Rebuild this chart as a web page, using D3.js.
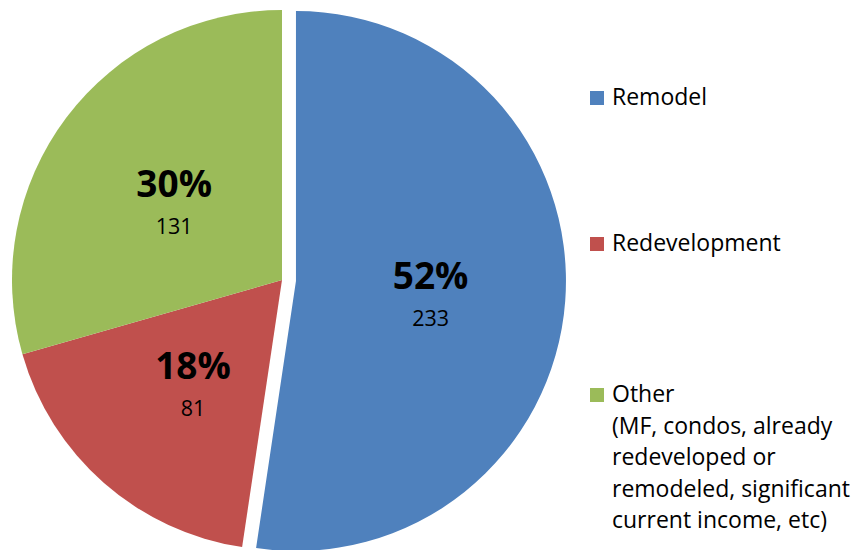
<!DOCTYPE html>
<html>
<head>
<meta charset="utf-8">
<script src="https://cdn.jsdelivr.net/npm/d3@7"></script>
<style>
  body { margin: 0; background: #fff; }
  svg text { font-family: "Open Sans", "Noto Sans", sans-serif; fill: #000; }
</style>
</head>
<body>
<svg class="pie-chart" width="866" height="550"></svg>
<script>
const categories = ['Remodel', 'Redevelopment', 'Other'];
const counts = [233, 81, 131];
const percentLabels = ['52%', '18%', '30%'];
const legendLines = [
  ['Remodel'],
  ['Redevelopment'],
  ['Other', '(MF, condos, already', 'redeveloped or', 'remodeled, significant', 'current income, etc)']
];
const sliceColors = ['#4f81bd', '#c0504d', '#9bbb59'];

const centerX = 282;
const centerY = 280;
const radius = 270;
const explode = [14, 0, 0];

const svg = d3.select('.pie-chart');
const pie = d3.pie().sort(null).value(d => d)(counts);
const arc = d3.arc().innerRadius(0).outerRadius(radius);
const labelArc = d3.arc().innerRadius(radius * 0.5).outerRadius(radius * 0.5);

const slices = svg.append('g')
  .attr('transform', 'translate(' + centerX + ',' + centerY + ')')
  .selectAll('g')
  .data(pie)
  .enter()
  .append('g')
  .attr('transform', (d, i) => {
    const mid = (d.startAngle + d.endAngle) / 2;
    return 'translate(' + (Math.sin(mid) * explode[i]) + ',' + (-Math.cos(mid) * explode[i]) + ')';
  });

slices.append('path')
  .attr('d', arc)
  .attr('fill', (d, i) => sliceColors[i]);

slices.append('text')
  .attr('transform', d => 'translate(' + labelArc.centroid(d) + ')')
  .attr('text-anchor', 'middle')
  .attr('y', -2)
  .style('font-size', '37px')
  .style('font-weight', 'bold')
  .text((d, i) => percentLabels[i]);

slices.append('text')
  .attr('transform', d => 'translate(' + labelArc.centroid(d) + ')')
  .attr('text-anchor', 'middle')
  .attr('y', 35)
  .style('font-size', '21.5px')
  .text((d, i) => counts[i]);

// legend
const legendTop = [91, 237, 388];
const legend = svg.append('g')
  .selectAll('g')
  .data(categories)
  .enter()
  .append('g')
  .attr('transform', (d, i) => 'translate(590,' + legendTop[i] + ')');

legend.append('rect')
  .attr('width', 14)
  .attr('height', 14)
  .attr('fill', (d, i) => sliceColors[i]);

legend.append('text')
  .attr('x', 22)
  .style('font-size', '23px')
  .selectAll('tspan')
  .data((d, i) => legendLines[i])
  .enter()
  .append('tspan')
  .attr('x', 22)
  .attr('y', (d, j) => 14 + j * 31.5)
  .text(d => d);
</script>
</body>
</html>
